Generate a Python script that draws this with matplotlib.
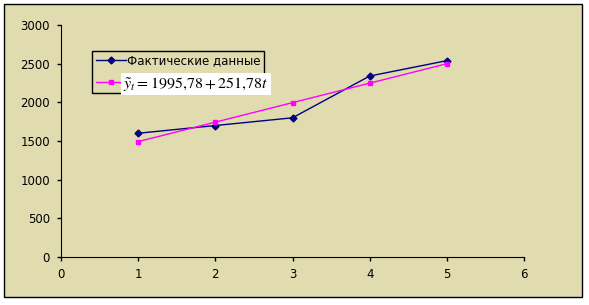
# trend chart: actual data vs linear trend

import matplotlib
matplotlib.use("Agg")
import matplotlib.pyplot as plt
from matplotlib.patches import Rectangle

t = [1, 2, 3, 4, 5]
actual = [1600, 1700, 1800, 2340, 2539]
trend = [1492.22, 1744.00, 1995.78, 2247.56, 2499.34]
labels = ["Фактические данные", r"$\tilde{y}_t = 1995{,}78 + 251{,}78t$"]

bg = "#E0DCB0"
plt.rcParams['font.family'] = ['DejaVu Sans']

fig = plt.figure(figsize=(5.89, 3.05), dpi=100)
fig.patch.set_facecolor("white")
# outer chart frame
fig.patches.append(Rectangle((4/589, 1-297/305), 578/589, 293/305, transform=fig.transFigure,
                             facecolor=bg, edgecolor="black", linewidth=1, zorder=-10))

ax = fig.add_axes([61/589, 1-257/305, 463/589, 232/305])
ax.set_facecolor("none")
ax.set_zorder(1)

l1, = ax.plot(t, actual, color="#000080", marker="D", markersize=3.5, linewidth=1)
l2, = ax.plot(t, trend, color="#FF00FF", marker="s", markersize=3.5, linewidth=1)

ax.set_xlim(0, 6)
ax.set_ylim(0, 3000)
ax.set_xticks(range(0, 7))
ax.set_yticks(range(0, 3001, 500))
for s in ["top", "right"]:
    ax.spines[s].set_visible(False)
ax.tick_params(direction="out", length=3, width=1, labelsize=8.5, pad=5)

# legend frame sized by the first label; the formula is pasted over it like a picture
leg = ax.legend([l1, l2], [labels[0], " "], loc="upper left", bbox_to_anchor=(31/463, 1-26/232),
                frameon=True, fancybox=False, edgecolor="black", facecolor=bg, framealpha=1,
                fontsize=8.5, handlelength=2.6, handletextpad=0.1, borderpad=0.3,
                labelspacing=0.75, borderaxespad=0)
leg.get_frame().set_linewidth(1)

fig.text(123/589, 1-84/305, labels[1], fontsize=11.5, math_fontfamily="stix",
         ha="left", va="center", zorder=5,
         bbox=dict(facecolor="white", edgecolor="none", pad=1.5))

fig.savefig("out.png", dpi=100)
